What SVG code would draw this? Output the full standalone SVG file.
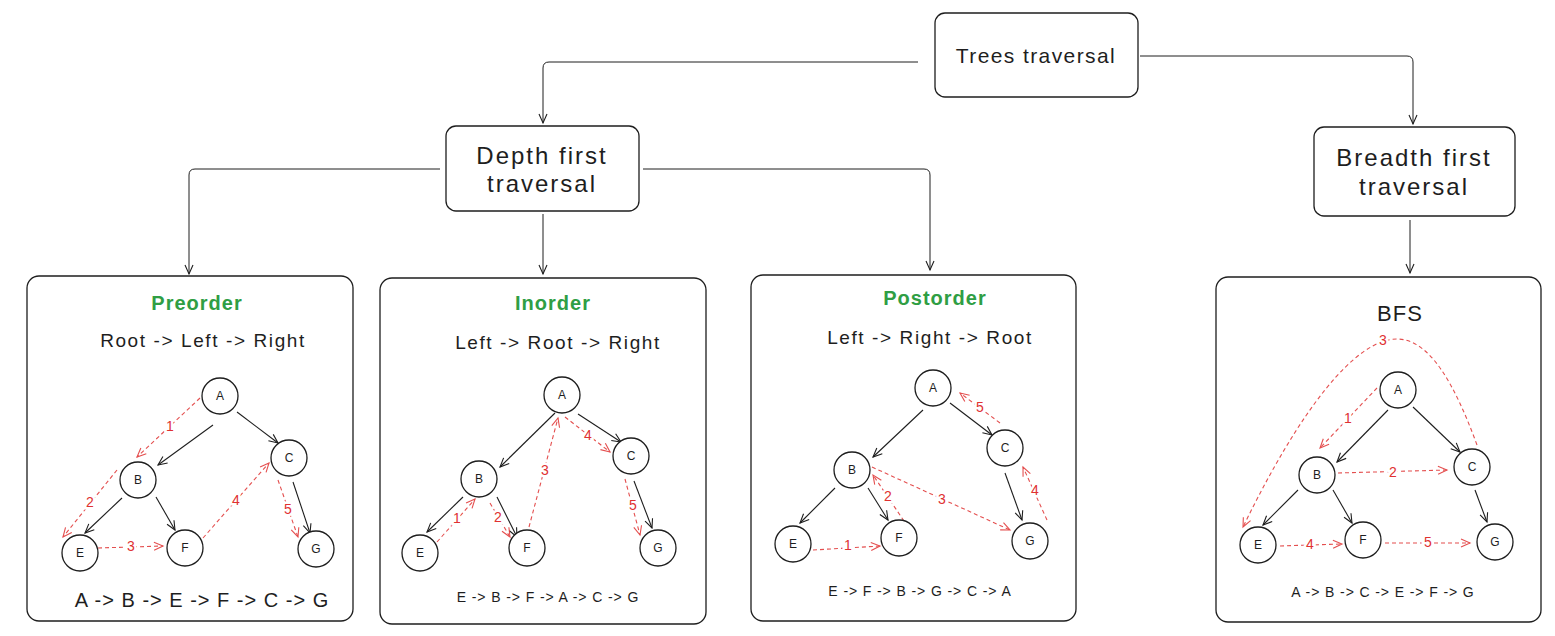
<svg xmlns="http://www.w3.org/2000/svg" width="1555" height="636" viewBox="0 0 1555 636">
<style>
.box{fill:#fff;stroke:#1e1e1e;stroke-width:1.3}
.conn{fill:none;stroke:#1e1e1e;stroke-width:1}
.node{fill:#fff;stroke:#1e1e1e;stroke-width:1.3}
.edge{stroke:#1e1e1e;stroke-width:1.1;fill:none}
.red{stroke:#e03131;stroke-width:1.1;fill:none;stroke-dasharray:4 3;opacity:0.85}
.t{font-family:"Liberation Sans",Arial,sans-serif;fill:#1e1e1e;text-anchor:middle;dominant-baseline:central}
.title{font-size:21px;letter-spacing:1.4px}
.big{font-size:24px;letter-spacing:2px}
.head{font-size:20px;font-weight:bold;fill:#2f9e44;letter-spacing:1px}
.rule{font-size:19px;letter-spacing:1.6px}
.lt{font-size:12px}
.seq{font-size:14px;letter-spacing:0.9px}
.seqb{font-size:20px;letter-spacing:1px}
.rl{font-family:"Liberation Sans",Arial,sans-serif;font-size:14px;fill:#e03131;text-anchor:middle;dominant-baseline:central;stroke:#fff;stroke-width:5;paint-order:stroke}
</style>
<defs>
<marker id="ab" viewBox="-10 -5 12 10" refX="0" refY="0" markerWidth="12" markerHeight="10" markerUnits="userSpaceOnUse" orient="auto"><path d="M-9,-4 L0,0 L-9,4" fill="none" stroke="#1e1e1e" stroke-width="1.1"/></marker>
<marker id="ar" viewBox="-10 -5 12 10" refX="0" refY="0" markerWidth="12" markerHeight="10" markerUnits="userSpaceOnUse" orient="auto"><path d="M-9,-4 L0,0 L-9,4" fill="none" stroke="#e03131" stroke-width="1.1"/></marker>
</defs>
<rect width="1555" height="636" fill="#fff"/>

<g id="connectors">
<path class="conn" d="M918,62 L549,62 Q543,62 543,68 L543,123" marker-end="url(#ab)"/>
<path class="conn" d="M1140,56 L1407,56 Q1413,56 1413,62 L1413,124" marker-end="url(#ab)"/>
<path class="conn" d="M440,169 L195,169 Q189,169 189,175 L189,274" marker-end="url(#ab)"/>
<path class="conn" d="M543,214 L543,274" marker-end="url(#ab)"/>
<path class="conn" d="M643,169 L924,169 Q930,169 930,175 L930,270" marker-end="url(#ab)"/>
<path class="conn" d="M1410,220 L1410,273" marker-end="url(#ab)"/>
</g>

<g id="trees-traversal">
<rect class="box" x="935" y="13" width="203" height="84" rx="10"/>
<text class="t title" x="1036" y="55">Trees traversal</text>
</g>
<g id="depth-first">
<rect class="box" x="446" y="126" width="193" height="85" rx="10"/>
<text class="t big" x="542" y="155">Depth first</text>
<text class="t big" x="542" y="183">traversal</text>
</g>
<g id="breadth-first">
<rect class="box" x="1314" y="127" width="201" height="89" rx="10"/>
<text class="t big" x="1414" y="157">Breadth first</text>
<text class="t big" x="1414" y="186">traversal</text>
</g>

<g id="preorder">
<rect class="box" x="27" y="276" width="326" height="345" rx="12"/>
<text class="t head" x="197" y="303">Preorder</text>
<text class="t rule" x="203" y="340">Root -&gt; Left -&gt; Right</text>
<line class="edge" x1="213" y1="425" x2="158" y2="465" marker-end="url(#ab)"/>
<line class="edge" x1="237" y1="412" x2="278" y2="443" marker-end="url(#ab)"/>
<line class="edge" x1="122" y1="498" x2="85" y2="533" marker-end="url(#ab)"/>
<line class="edge" x1="156" y1="497" x2="175" y2="530" marker-end="url(#ab)"/>
<line class="edge" x1="293" y1="482" x2="310" y2="533" marker-end="url(#ab)"/>
<line class="red" x1="200" y1="398" x2="137" y2="457" marker-end="url(#ar)"/>
<line class="red" x1="117" y1="470" x2="63" y2="537" marker-end="url(#ar)"/>
<line class="red" x1="98" y1="548" x2="163" y2="546" marker-end="url(#ar)"/>
<line class="red" x1="203" y1="538" x2="269" y2="463" marker-end="url(#ar)"/>
<line class="red" x1="278" y1="480" x2="298" y2="537" marker-end="url(#ar)"/>
<text class="rl" x="170" y="426">1</text>
<text class="rl" x="90" y="502">2</text>
<text class="rl" x="131" y="546">3</text>
<text class="rl" x="236" y="500">4</text>
<text class="rl" x="288" y="509">5</text>
<circle class="node" cx="220" cy="396" r="18"/><text class="t lt" x="220" y="396">A</text>
<circle class="node" cx="138" cy="480" r="18"/><text class="t lt" x="138" y="480">B</text>
<circle class="node" cx="289" cy="458" r="18"/><text class="t lt" x="289" y="458">C</text>
<circle class="node" cx="80" cy="553" r="18"/><text class="t lt" x="80" y="553">E</text>
<circle class="node" cx="185" cy="548" r="18"/><text class="t lt" x="185" y="548">F</text>
<circle class="node" cx="316" cy="549" r="18"/><text class="t lt" x="316" y="549">G</text>
<text class="t seqb" x="202" y="600">A -&gt; B -&gt; E -&gt; F -&gt; C -&gt; G</text>
</g>

<g id="inorder">
<rect class="box" x="380" y="278" width="326" height="346" rx="12"/>
<text class="t head" x="553" y="303">Inorder</text>
<text class="t rule" x="558" y="342">Left -&gt; Root -&gt; Right</text>
<line class="edge" x1="555" y1="413" x2="500" y2="467" marker-end="url(#ab)"/>
<line class="edge" x1="578" y1="414" x2="621" y2="442" marker-end="url(#ab)"/>
<line class="edge" x1="463" y1="497" x2="427" y2="532" marker-end="url(#ab)"/>
<line class="edge" x1="497" y1="497" x2="517" y2="537" marker-end="url(#ab)"/>
<line class="edge" x1="634" y1="481" x2="652" y2="528" marker-end="url(#ab)"/>
<line class="red" x1="437" y1="542" x2="475" y2="499" marker-end="url(#ar)"/>
<line class="red" x1="490" y1="503" x2="510" y2="537" marker-end="url(#ar)"/>
<line class="red" x1="529" y1="527" x2="558" y2="418" marker-end="url(#ar)"/>
<line class="red" x1="565" y1="417" x2="610" y2="452" marker-end="url(#ar)"/>
<line class="red" x1="625" y1="479" x2="640" y2="535" marker-end="url(#ar)"/>
<text class="rl" x="457" y="518">1</text>
<text class="rl" x="498" y="517">2</text>
<text class="rl" x="545" y="470">3</text>
<text class="rl" x="588" y="435">4</text>
<text class="rl" x="633" y="505">5</text>
<circle class="node" cx="562" cy="395" r="18"/><text class="t lt" x="562" y="395">A</text>
<circle class="node" cx="479" cy="479" r="18"/><text class="t lt" x="479" y="479">B</text>
<circle class="node" cx="631" cy="456" r="18"/><text class="t lt" x="631" y="456">C</text>
<circle class="node" cx="420" cy="553" r="18"/><text class="t lt" x="420" y="553">E</text>
<circle class="node" cx="527" cy="548" r="18"/><text class="t lt" x="527" y="548">F</text>
<circle class="node" cx="658" cy="548" r="18"/><text class="t lt" x="658" y="548">G</text>
<text class="t seq" x="548" y="597">E -&gt; B -&gt; F -&gt; A -&gt; C -&gt; G</text>
</g>

<g id="postorder">
<rect class="box" x="751" y="275" width="325" height="346" rx="12"/>
<text class="t head" x="935" y="298">Postorder</text>
<text class="t rule" x="930" y="337">Left -&gt; Right -&gt; Root</text>
<line class="edge" x1="923" y1="410" x2="873" y2="457" marker-end="url(#ab)"/>
<line class="edge" x1="950" y1="403" x2="992" y2="435" marker-end="url(#ab)"/>
<line class="edge" x1="835" y1="488" x2="800" y2="523" marker-end="url(#ab)"/>
<line class="edge" x1="868" y1="488" x2="888" y2="520" marker-end="url(#ab)"/>
<line class="edge" x1="1005" y1="473" x2="1022" y2="520" marker-end="url(#ab)"/>
<line class="red" x1="813" y1="550" x2="880" y2="546" marker-end="url(#ar)"/>
<line class="red" x1="904" y1="521" x2="873" y2="475" marker-end="url(#ar)"/>
<line class="red" x1="872" y1="467" x2="1010" y2="530" marker-end="url(#ar)"/>
<line class="red" x1="1047" y1="520" x2="1023" y2="467" marker-end="url(#ar)"/>
<line class="red" x1="1000" y1="423" x2="960" y2="393" marker-end="url(#ar)"/>
<text class="rl" x="848" y="545">1</text>
<text class="rl" x="888" y="496">2</text>
<text class="rl" x="942" y="499">3</text>
<text class="rl" x="1035" y="490">4</text>
<text class="rl" x="980" y="407">5</text>
<circle class="node" cx="933" cy="388" r="18"/><text class="t lt" x="933" y="388">A</text>
<circle class="node" cx="852" cy="470" r="18"/><text class="t lt" x="852" y="470">B</text>
<circle class="node" cx="1005" cy="448" r="18"/><text class="t lt" x="1005" y="448">C</text>
<circle class="node" cx="793" cy="544" r="18"/><text class="t lt" x="793" y="544">E</text>
<circle class="node" cx="899" cy="538" r="18"/><text class="t lt" x="899" y="538">F</text>
<circle class="node" cx="1030" cy="541" r="18"/><text class="t lt" x="1030" y="541">G</text>
<text class="t seq" x="920" y="591">E -&gt; F -&gt; B -&gt; G -&gt; C -&gt; A</text>
</g>

<g id="bfs">
<rect class="box" x="1216" y="277" width="325" height="345" rx="12"/>
<text class="t" x="1400" y="313" style="font-size:22px;letter-spacing:1px">BFS</text>
<line class="edge" x1="1388" y1="410" x2="1337" y2="462" marker-end="url(#ab)"/>
<line class="edge" x1="1413" y1="407" x2="1460" y2="452" marker-end="url(#ab)"/>
<line class="edge" x1="1298" y1="490" x2="1263" y2="525" marker-end="url(#ab)"/>
<line class="edge" x1="1333" y1="490" x2="1352" y2="523" marker-end="url(#ab)"/>
<line class="edge" x1="1475" y1="490" x2="1487" y2="522" marker-end="url(#ab)"/>
<line class="red" x1="1377" y1="388" x2="1320" y2="448" marker-end="url(#ar)"/>
<line class="red" x1="1338" y1="473" x2="1447" y2="470" marker-end="url(#ar)"/>
<path class="red" d="M1477,445 C1455,385 1430,339 1397,339 C1355,339 1300,410 1243,527" marker-end="url(#ar)"/>
<line class="red" x1="1280" y1="546" x2="1342" y2="544" marker-end="url(#ar)"/>
<line class="red" x1="1385" y1="543" x2="1470" y2="543" marker-end="url(#ar)"/>
<text class="rl" x="1348" y="418">1</text>
<text class="rl" x="1393" y="472">2</text>
<text class="rl" x="1383" y="340">3</text>
<text class="rl" x="1310" y="544">4</text>
<text class="rl" x="1428" y="542">5</text>
<circle class="node" cx="1398" cy="390" r="18"/><text class="t lt" x="1398" y="390">A</text>
<circle class="node" cx="1317" cy="475" r="18"/><text class="t lt" x="1317" y="475">B</text>
<circle class="node" cx="1472" cy="467" r="18"/><text class="t lt" x="1472" y="467">C</text>
<circle class="node" cx="1258" cy="545" r="18"/><text class="t lt" x="1258" y="545">E</text>
<circle class="node" cx="1363" cy="540" r="18"/><text class="t lt" x="1363" y="540">F</text>
<circle class="node" cx="1495" cy="542" r="18"/><text class="t lt" x="1495" y="542">G</text>
<text class="t seq" x="1383" y="592">A -&gt; B -&gt; C -&gt; E -&gt; F -&gt; G</text>
</g>
</svg>
